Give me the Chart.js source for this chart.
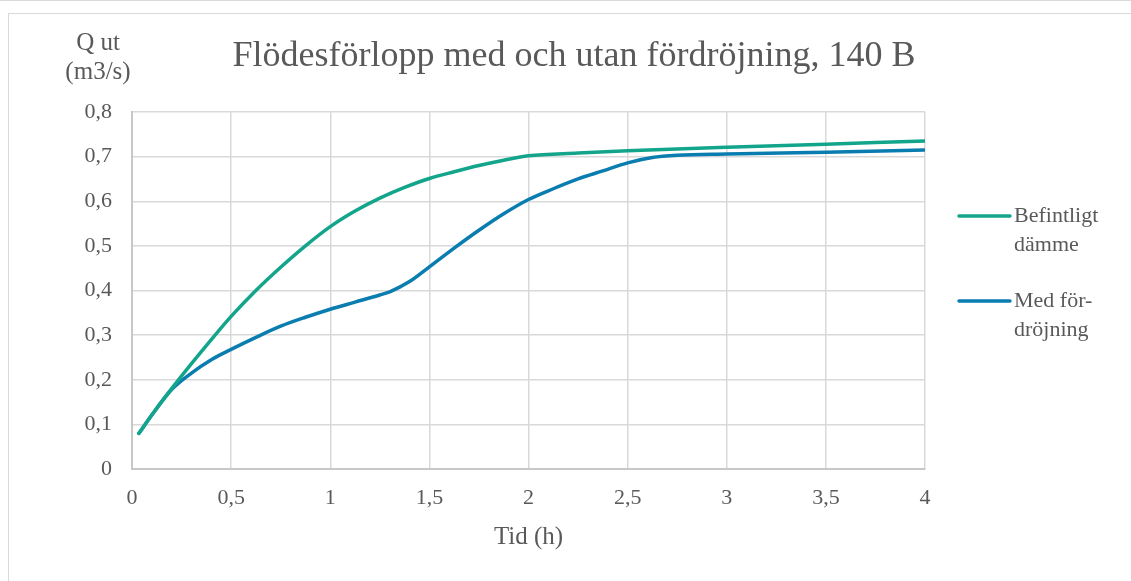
<!DOCTYPE html>
<html>
<head>
<meta charset="utf-8">
<script src="https://cdn.jsdelivr.net/npm/chart.js@4"></script>
<style>
  html, body { margin:0; padding:0; background:#fff; width:1131px; height:581px; overflow:hidden; }
  #topline { position:absolute; left:0; top:0; width:1131px; height:1px; background:#d9d9d9; }
  #frame { position:absolute; left:8px; top:13px; width:1140px; height:600px; border:1px solid #d9d9d9; box-sizing:border-box; }
  #wrap { position:absolute; left:0; top:0; width:1131px; height:581px; }
</style>
</head>
<body>
<div id="topline"></div>
<div id="frame"></div>
<div id="wrap"><canvas id="c" width="1131" height="581"></canvas></div>
<script>
const chartTitle = "Flödesförlopp med och utan fördröjning, 140 B";
const yTitleLines = ["Q ut", "(m3/s)"];
const xTitle = "Tid (h)";
const seriesNames = ["Befintligt dämme", "Med fördröjning"];
const legendLines = [["Befintligt", "dämme"], ["Med för-", "dröjning"]];
const seriesColors = ["#13a58b", "#0a7db0"];

const timeBefintligt = [0.035,0.1,0.2,0.3,0.4,0.5,0.625,0.75,0.875,1.0,1.125,1.25,1.375,1.5,1.625,1.75,1.875,2.0,2.25,2.5,3.0,3.5,4.0];
const qBefintligt    = [0.08,0.121,0.18,0.236,0.29,0.342,0.400,0.452,0.500,0.543,0.578,0.607,0.631,0.651,0.666,0.680,0.692,0.702,0.708,0.713,0.721,0.728,0.735];

const timeFordrojning = [0.035,0.1,0.2,0.3,0.4,0.5,0.625,0.75,0.875,1.0,1.125,1.25,1.3,1.4,1.5,1.625,1.75,1.875,2.0,2.125,2.25,2.375,2.5,2.625,2.75,3.0,3.5,4.0];
const qFordrojning    = [0.08,0.121,0.178,0.215,0.245,0.268,0.295,0.320,0.340,0.358,0.374,0.390,0.397,0.420,0.453,0.495,0.535,0.572,0.604,0.628,0.650,0.668,0.686,0.698,0.703,0.706,0.710,0.715];

const FONT = "'Liberation Serif', 'DejaVu Serif', serif";
const TXT = "#595959";

function pts(xs, ys) { return xs.map((x, i) => ({ x: x, y: ys[i] })); }

const extraText = {
  id: 'extraText',
  afterDraw(chart) {
    const ctx = chart.ctx;
    ctx.save();
    ctx.fillStyle = TXT;
    // title
    ctx.font = "36px " + FONT;
    ctx.textAlign = "center";
    ctx.textBaseline = "middle";
    ctx.fillText(chartTitle, 574, 57);
    // y title
    ctx.font = "25px " + FONT;
    yTitleLines.forEach((t, i) => ctx.fillText(t, 98, 43 + i * 29));
    // legend
    ctx.font = "22px " + FONT;
    ctx.textAlign = "left";
    const starts = [216, 301];
    chart.data.datasets.forEach((ds, i) => {
      const y0 = starts[i];
      ctx.strokeStyle = ds.borderColor;
      ctx.lineWidth = 3.5;
      ctx.lineCap = "round";
      ctx.beginPath();
      ctx.moveTo(959, y0);
      ctx.lineTo(1010, y0);
      ctx.stroke();
      ctx.fillStyle = TXT;
      legendLines[i].forEach((t, j) => ctx.fillText(t, 1014, y0 + j * 29));
    });
    ctx.restore();
  }
};

new Chart(document.getElementById('c'), {
  type: 'line',
  data: {
    datasets: [
      { label: seriesNames[0], data: pts(timeBefintligt, qBefintligt), borderColor: seriesColors[0], backgroundColor: seriesColors[0], borderWidth: 3.5, pointRadius: 0, cubicInterpolationMode: 'monotone', borderCapStyle: 'round' },
      { label: seriesNames[1], data: pts(timeFordrojning, qFordrojning), borderColor: seriesColors[1], backgroundColor: seriesColors[1], borderWidth: 3.5, pointRadius: 0, cubicInterpolationMode: 'monotone', borderCapStyle: 'round' }
    ]
  },
  options: {
    responsive: false,
    animation: false,
    layout: { padding: { left: 0, top: 112, right: 206, bottom: 29 } },
    plugins: { legend: { display: false }, title: { display: false }, tooltip: { enabled: false } },
    scales: {
      x: {
        type: 'linear', min: 0, max: 4,
        ticks: { stepSize: 0.5, color: TXT, font: { family: FONT, size: 22 }, padding: 16,
                 callback: v => String(v).replace('.', ',') },
        grid: { color: '#d9d9d9', lineWidth: 1.5, drawTicks: false },
        border: { color: '#c8c8c8', width: 2 },
        title: { display: true, text: xTitle, color: TXT, font: { family: FONT, size: 25 }, padding: { top: 0, bottom: 0 } },
        afterFit: s => { s.height = 83; }
      },
      y: {
        min: 0, max: 0.8,
        ticks: { stepSize: 0.1, color: TXT, font: { family: FONT, size: 22 }, padding: 20,
                 callback: v => String(Math.round(v * 10) / 10).replace('.', ',') },
        grid: { color: '#d9d9d9', lineWidth: 1.5, drawTicks: false },
        border: { color: '#c8c8c8', width: 2 },
        afterFit: s => { s.width = 132; }
      }
    }
  },
  plugins: [extraText]
});
</script>
</body>
</html>
